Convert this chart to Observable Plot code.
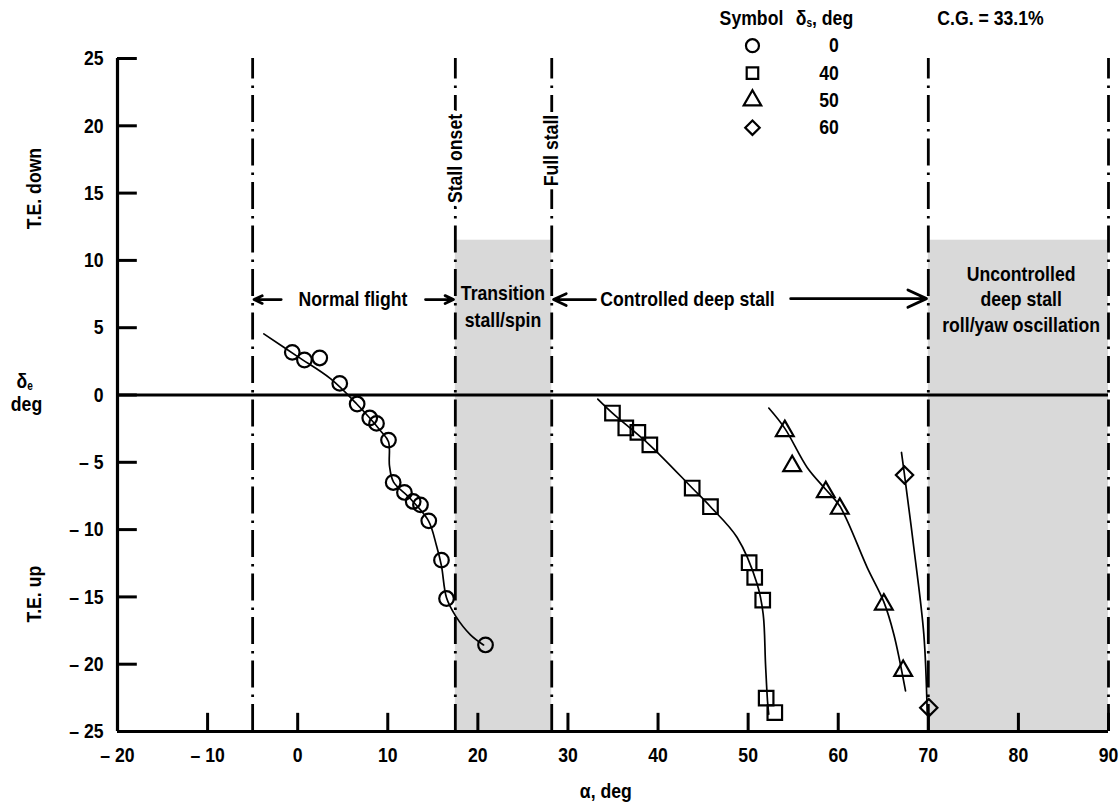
<!DOCTYPE html>
<html><head><meta charset="utf-8">
<script src="https://cdn.jsdelivr.net/npm/d3@7"></script>
<script src="https://cdn.jsdelivr.net/npm/@observablehq/plot@0.6"></script>
<style>body{margin:0;background:#fff}</style>
</head><body><div id="chart"></div>
<script>
// ---- ticks ----
const xTicks = [-20,-10,0,10,20,30,40,50,60,70,80,90];
const yTicks = [-25,-20,-15,-10,-5,0,5,10,15,20,25];

// ---- measured points (alpha, delta_e) per stabilizer setting ----
const alpha0  = [-0.6,0.75,2.45,4.67,6.6,8.0,8.75,10.08,10.6,11.85,12.82,13.63,14.55,15.96,16.52,20.85];
const elev0   = [3.17,2.6,2.75,0.86,-0.67,-1.71,-2.11,-3.35,-6.5,-7.24,-7.91,-8.16,-9.35,-12.27,-15.12,-18.57];
const alpha40 = [34.94,36.42,37.76,39.09,43.79,45.82,50.11,50.73,51.62,52.0,52.96];
const elev40  = [-1.34,-2.45,-2.78,-3.7,-6.91,-8.3,-12.46,-13.55,-15.24,-22.52,-23.59];
const alpha50 = [54.07,54.89,58.62,60.17,65.06,67.21];
const elev50  = [-2.67,-5.28,-7.21,-8.44,-15.56,-20.49];
const alpha60 = [67.36,70.05];
const elev60  = [-5.95,-23.23];

// ---- faired curves ----
const fit0A  = [-3.76,0.0,3.64,6.53,9.19,10.08,10.19,10.63,12.52,14.52,15.41,15.96,16.52,17.52,19.18,20.63];
const fit0E  = [4.54,2.85,1.21,-0.65,-2.65,-3.47,-5.26,-6.45,-7.71,-9.35,-11.2,-12.7,-15.07,-16.41,-17.82,-18.57];
const fit40A = [33.31,34.94,39.05,43.79,45.82,48.78,51.0,51.67,51.93,52.15,52.29];
const fit40E = [-0.3,-1.34,-3.7,-6.91,-8.3,-10.59,-14.05,-16.28,-20.0,-22.73,-23.72];
const fit50A = [52.29,54.07,56.55,58.62,60.17,63.22,65.06,66.17,67.47];
const fit50E = [-0.97,-2.48,-5.38,-7.02,-8.25,-12.82,-15.37,-17.77,-21.98];
const fit60A = [67.02,67.36,68.39,69.5,69.88];
const fit60E = [-4.27,-5.95,-11.33,-17.77,-23.72];

// ---- legend ----
const legendValues  = ["0","40","50","60"];
const legendSymbols = ["circle","square","triangle","diamond2"];

// ---- regime boundaries ----
const boundaries = [-5, 17.5, 28.2, 70, 90];
const shadeX1 = [17.5, 70];
const shadeX2 = [28.2, 90];
const shadeTop = 11.5;

const FONT = "'Liberation Sans', Arial, Helvetica, sans-serif";
const FS = 21;          // font size (px)
const SQUEEZE = 0.84;   // horizontal condensing to mimic a narrow bold face
const T = {fontFamily: FONT, fontWeight: "bold", fontSize: FS, fill: "black"};

const zip = (a, b) => a.map((v, i) => ({a: v, d: b[i]}));
const fmt = d => d < 0 ? "\u2013 " + Math.abs(d) : String(d);

const series = [
  {pts: zip(alpha0, elev0), fit: zip(fit0A, fit0E), symbol: "circle", r: 7.3},
  {pts: zip(alpha40, elev40), fit: zip(fit40A, fit40E), symbol: "square", r: 8.2},
  {pts: zip(alpha50, elev50), fit: zip(fit50A, fit50E), symbol: "triangle", r: 6.6},
  {pts: zip(alpha60, elev60), fit: zip(fit60A, fit60E), symbol: "diamond2", r: 7.8}
];

const shades = shadeX1.map((x1, i) => ({x1, x2: shadeX2[i]}));
const legendRows = legendValues.map((v, i) => ({v, s: legendSymbols[i], y: 25.95 - i * 2.03}));

const arrows = [
  {x1: -1.83, x2: -4.85, y: 7.09},
  {x1: 14.19, x2: 17.3, y: 7.09},
  {x1: 33.06, x2: 28.4, y: 7.09},
  {x1: 54.72, x2: 69.8, y: 7.16}
];

const marks = [
  Plot.rect(shades, {x1: "x1", x2: "x2", y1: -25, y2: shadeTop, fill: "#d9d9d9"}),
  Plot.ruleX(boundaries, {y1: -25, y2: 25, stroke: "black", strokeWidth: 2.8, strokeDasharray: "27,7,2.5,7"}),
  Plot.ruleY([0], {x1: -20, x2: 90, stroke: "black", strokeWidth: 3}),
  Plot.ruleX([-20], {y1: -25, y2: 25, stroke: "black", strokeWidth: 3.2}),
  Plot.ruleY([-25], {x1: -20, x2: 90, stroke: "black", strokeWidth: 3.2}),
  Plot.ruleX(xTicks, {y1: -25, y2: -25 + 1.35, stroke: "black", strokeWidth: 3}),
  Plot.ruleY(yTicks, {x1: -20, x2: -20 + 2.2, stroke: "black", strokeWidth: 3}),
  Plot.axisX(xTicks, {anchor: "bottom", tickSize: 0, tickPadding: 16, tickFormat: fmt, label: null, ...T}),
  Plot.axisY(yTicks, {anchor: "left", tickSize: 0, tickPadding: 14, tickFormat: fmt, label: null, ...T}),
  ...series.map(s => Plot.line(s.fit, {x: "a", y: "d", curve: "catmull-rom", stroke: "black", strokeWidth: 1.7})),
  ...series.map(s => Plot.dot(s.pts, {x: "a", y: "d", symbol: s.symbol, r: s.r, stroke: "black", strokeWidth: 2.2, fill: "none"})),
  Plot.arrow(arrows, {x1: "x1", x2: "x2", y1: "y", y2: "y", stroke: "black", strokeWidth: 2.8, headLength: 11, headAngle: 50}),
  // regime labels
  Plot.text(["Normal flight"], {x: 6.14, y: 7.09, ...T}),
  Plot.text(["Transition\nstall/spin"], {x: 22.79, y: 6.68, lineHeight: 1.29, ...T}),
  Plot.text(["Controlled deep stall"], {x: 43.27, y: 7.09, ...T}),
  Plot.text(["Uncontrolled\ndeep stall\nroll/yaw oscillation"], {x: 80.3, y: 7.19, lineHeight: 1.23, ...T}),
  Plot.text(["Stall onset"], {x: 17.5, y: 17.57, rotate: -90, ...T, stroke: "white", strokeWidth: 10, paintOrder: "stroke"}),
  Plot.text(["Full stall"], {x: 28.2, y: 18.16, rotate: -90, ...T, stroke: "white", strokeWidth: 10, paintOrder: "stroke"}),
  // axis titles
  Plot.text(["T.E. down"], {x: -29.2, y: 15.34, rotate: -90, ...T}),
  Plot.text(["T.E. up"], {x: -29.2, y: -14.8, rotate: -90, ...T}),
  Plot.text(["δ_e"], {x: -30.3, y: 1.02, ...T}),
  Plot.text(["deg"], {x: -30.1, y: -0.72, ...T}),
  Plot.text(["α, deg"], {x: 34.2, y: -29.42, ...T}),
  // legend
  Plot.text(["Symbol"], {x: 50.37, y: 27.96, ...T}),
  Plot.text(["δ_s, deg"], {x: 58.47, y: 27.96, ...T}),
  Plot.text(["C.G. = 33.1%"], {x: 76.9, y: 27.96, ...T}),
  Plot.dot(legendRows, {x: 50.48, y: "y", symbol: "s", r: 6.5, stroke: "black", strokeWidth: 2.2, fill: "none"}),
  Plot.text(legendRows, {x: 60.06, y: "y", text: "v", textAnchor: "end", ...T})
];

const chart = Plot.plot({
  width: 1120, height: 806,
  marginLeft: 117, marginRight: 12, marginTop: 58, marginBottom: 75,
  x: {domain: [-20, 90], label: null},
  y: {domain: [-25, 25], label: null},
  symbol: {type: "identity"},
  style: {fontFamily: FONT, fontWeight: "bold", fontSize: FS + "px", background: "white", overflow: "visible", color: "black"},
  marks
});

// subscripts for δ_e / δ_s
d3.select(chart).selectAll("text").each(function() {
  if (this.querySelector("tspan")) return;
  const t = this.textContent;
  const m = t.match(/^(.*?)δ_(\w)(.*)$/);
  if (!m) return;
  const sel = d3.select(this);
  sel.text(null);
  if (m[1]) sel.append("tspan").text(m[1]);
  sel.append("tspan").text("δ");
  sel.append("tspan").attr("font-size", 12).attr("dy", 2).text(m[2]);
  if (m[3]) sel.append("tspan").attr("dy", -2).text(m[3]);
});

document.getElementById("chart").appendChild(chart);

// condense glyphs horizontally (narrow bold look)
d3.select(chart).selectAll("text").each(function() {
  const lines = Array.from(this.children).filter(c => c.tagName === "tspan" && c.hasAttribute("x"));
  const targets = lines.length ? lines : [this];
  for (const el of targets) {
    const len = el.getComputedTextLength();
    if (len > 0) {
      el.setAttribute("textLength", (len * SQUEEZE).toFixed(1));
      el.setAttribute("lengthAdjust", "spacingAndGlyphs");
    }
  }
});
</script>
</body></html>
